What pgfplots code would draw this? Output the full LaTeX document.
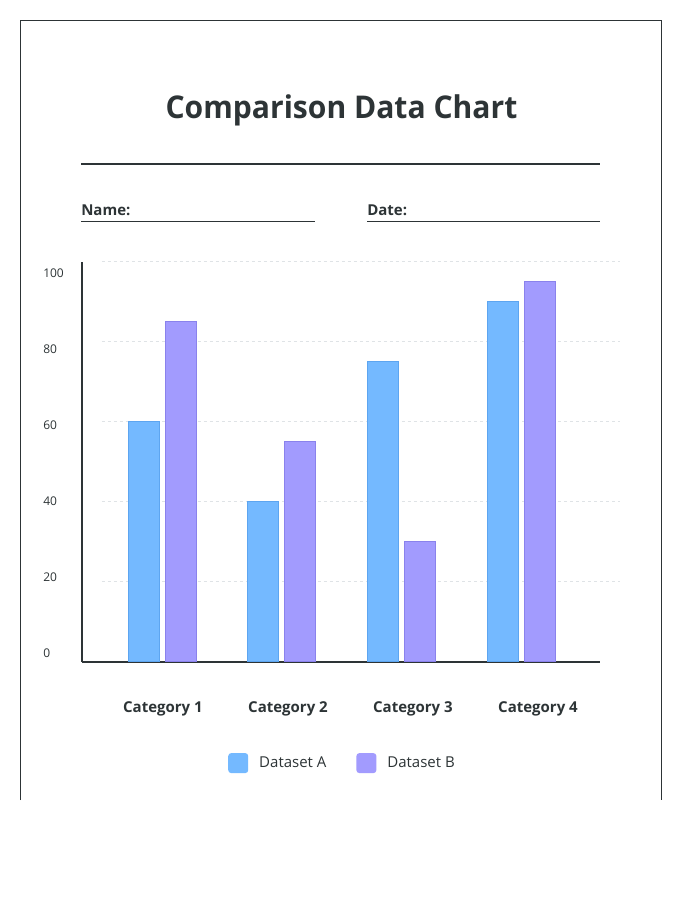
\documentclass[border=0pt]{standalone}
\usepackage{pgfplots}
\pgfplotsset{compat=1.18}
\usepackage{fontspec}
\setmainfont{Open Sans}
\definecolor{txt}{HTML}{2D3436}
\definecolor{colA}{HTML}{74B9FF}
\definecolor{colAe}{HTML}{5DA5F0}
\definecolor{colB}{HTML}{A29BFE}
\definecolor{colBe}{HTML}{8A82EC}
\definecolor{gridc}{HTML}{DFE3E6}
\pgfplotsset{sqleg/.style={legend image code/.code={\fill[##1, draw=none, rounded corners=2.25pt] (0pt,-7.5pt) rectangle (15pt,7.5pt);}}}
\begin{document}
\begin{tikzpicture}[x=0.75pt,y=-0.75pt]
\fill[white] (0,0) rectangle (700,900);
\draw[txt, line width=0.75pt] (20.5,800) -- (20.5,20.5) -- (661,20.5) -- (661,800);
\node[anchor=base, inner sep=0pt, font=\fontsize{23.5}{28}\selectfont\bfseries, text=txt] at (341.5,118.5) {\scalebox{0.96}[1]{Comparison Data Chart}};
\draw[txt, line width=1.5pt] (81,164) -- (600,164);
\node[anchor=base west, inner sep=0pt, font=\fontsize{11.25}{13}\selectfont\bfseries, text=txt] at (81,215) {Name:};
\draw[txt, line width=0.75pt] (81,221) -- (315,221);
\node[anchor=base west, inner sep=0pt, font=\fontsize{11.25}{13}\selectfont\bfseries, text=txt] at (367,215) {Date:};
\draw[txt, line width=0.75pt] (367,221) -- (600,221);
\begin{axis}[
  at={(61.5pt,-496.125pt)}, anchor=south west,
  scale only axis, width=388.5pt, height=300pt,
  xmin=-0.6685, xmax=3.660, ymin=0, ymax=100,
  axis x line=bottom, axis y line=left,
  axis line style={txt, line width=1.5pt, -},
  major tick length=0pt,
  clip=false,
  xtick={0.008,1.053,2.097,3.142},
  xticklabels={Category 1,Category 2,Category 3,Category 4},
  xticklabel style={anchor=base, inner sep=0pt, yshift=-38.6pt, font=\fontsize{11.25}{13}\selectfont\bfseries, text=txt},
  ytick={2.1,21.1,40.1,59.1,78.1,97.1},
  yticklabels={0,20,40,60,80,100},
  yticklabel style={anchor=west, inner sep=0pt, xshift=-29.25pt, font=\fontsize{9}{11}\selectfont, text=txt},
  /pgf/number format/assume math mode=true,
  legend style={at={(0.501,-0.254)}, anchor=center, draw=none, fill=none,
    font=\fontsize{11.25}{13}\selectfont, text=txt,
    nodes={inner sep=0pt},
    /tikz/every even column/.append style={column sep=22.5pt},
    /tikz/every odd column/.append style={column sep=8.25pt}},
  legend columns=2,
  legend cell align=left,
]
\pgfplotsinvokeforeach{20,40,60,80,100}{
  \draw[gridc, line width=0.75pt, dash pattern=on 2.25pt off 2.25pt] (axis cs:-0.5014,#1) -- (axis cs:3.827,#1);
}
\addplot[ybar, bar width=23.25pt, bar shift=-13.875pt, fill=colA, draw=colAe, line width=0.75pt, sqleg]
  coordinates {(0,60) (1,40) (2,75) (3,90)};
\addlegendentry{Dataset A}
\addplot[ybar, bar width=23.25pt, bar shift=13.875pt, fill=colB, draw=colBe, line width=0.75pt, sqleg]
  coordinates {(0,85) (1,55) (2,30) (3,95)};
\addlegendentry{Dataset B}
\end{axis}
\end{tikzpicture}
\end{document}
